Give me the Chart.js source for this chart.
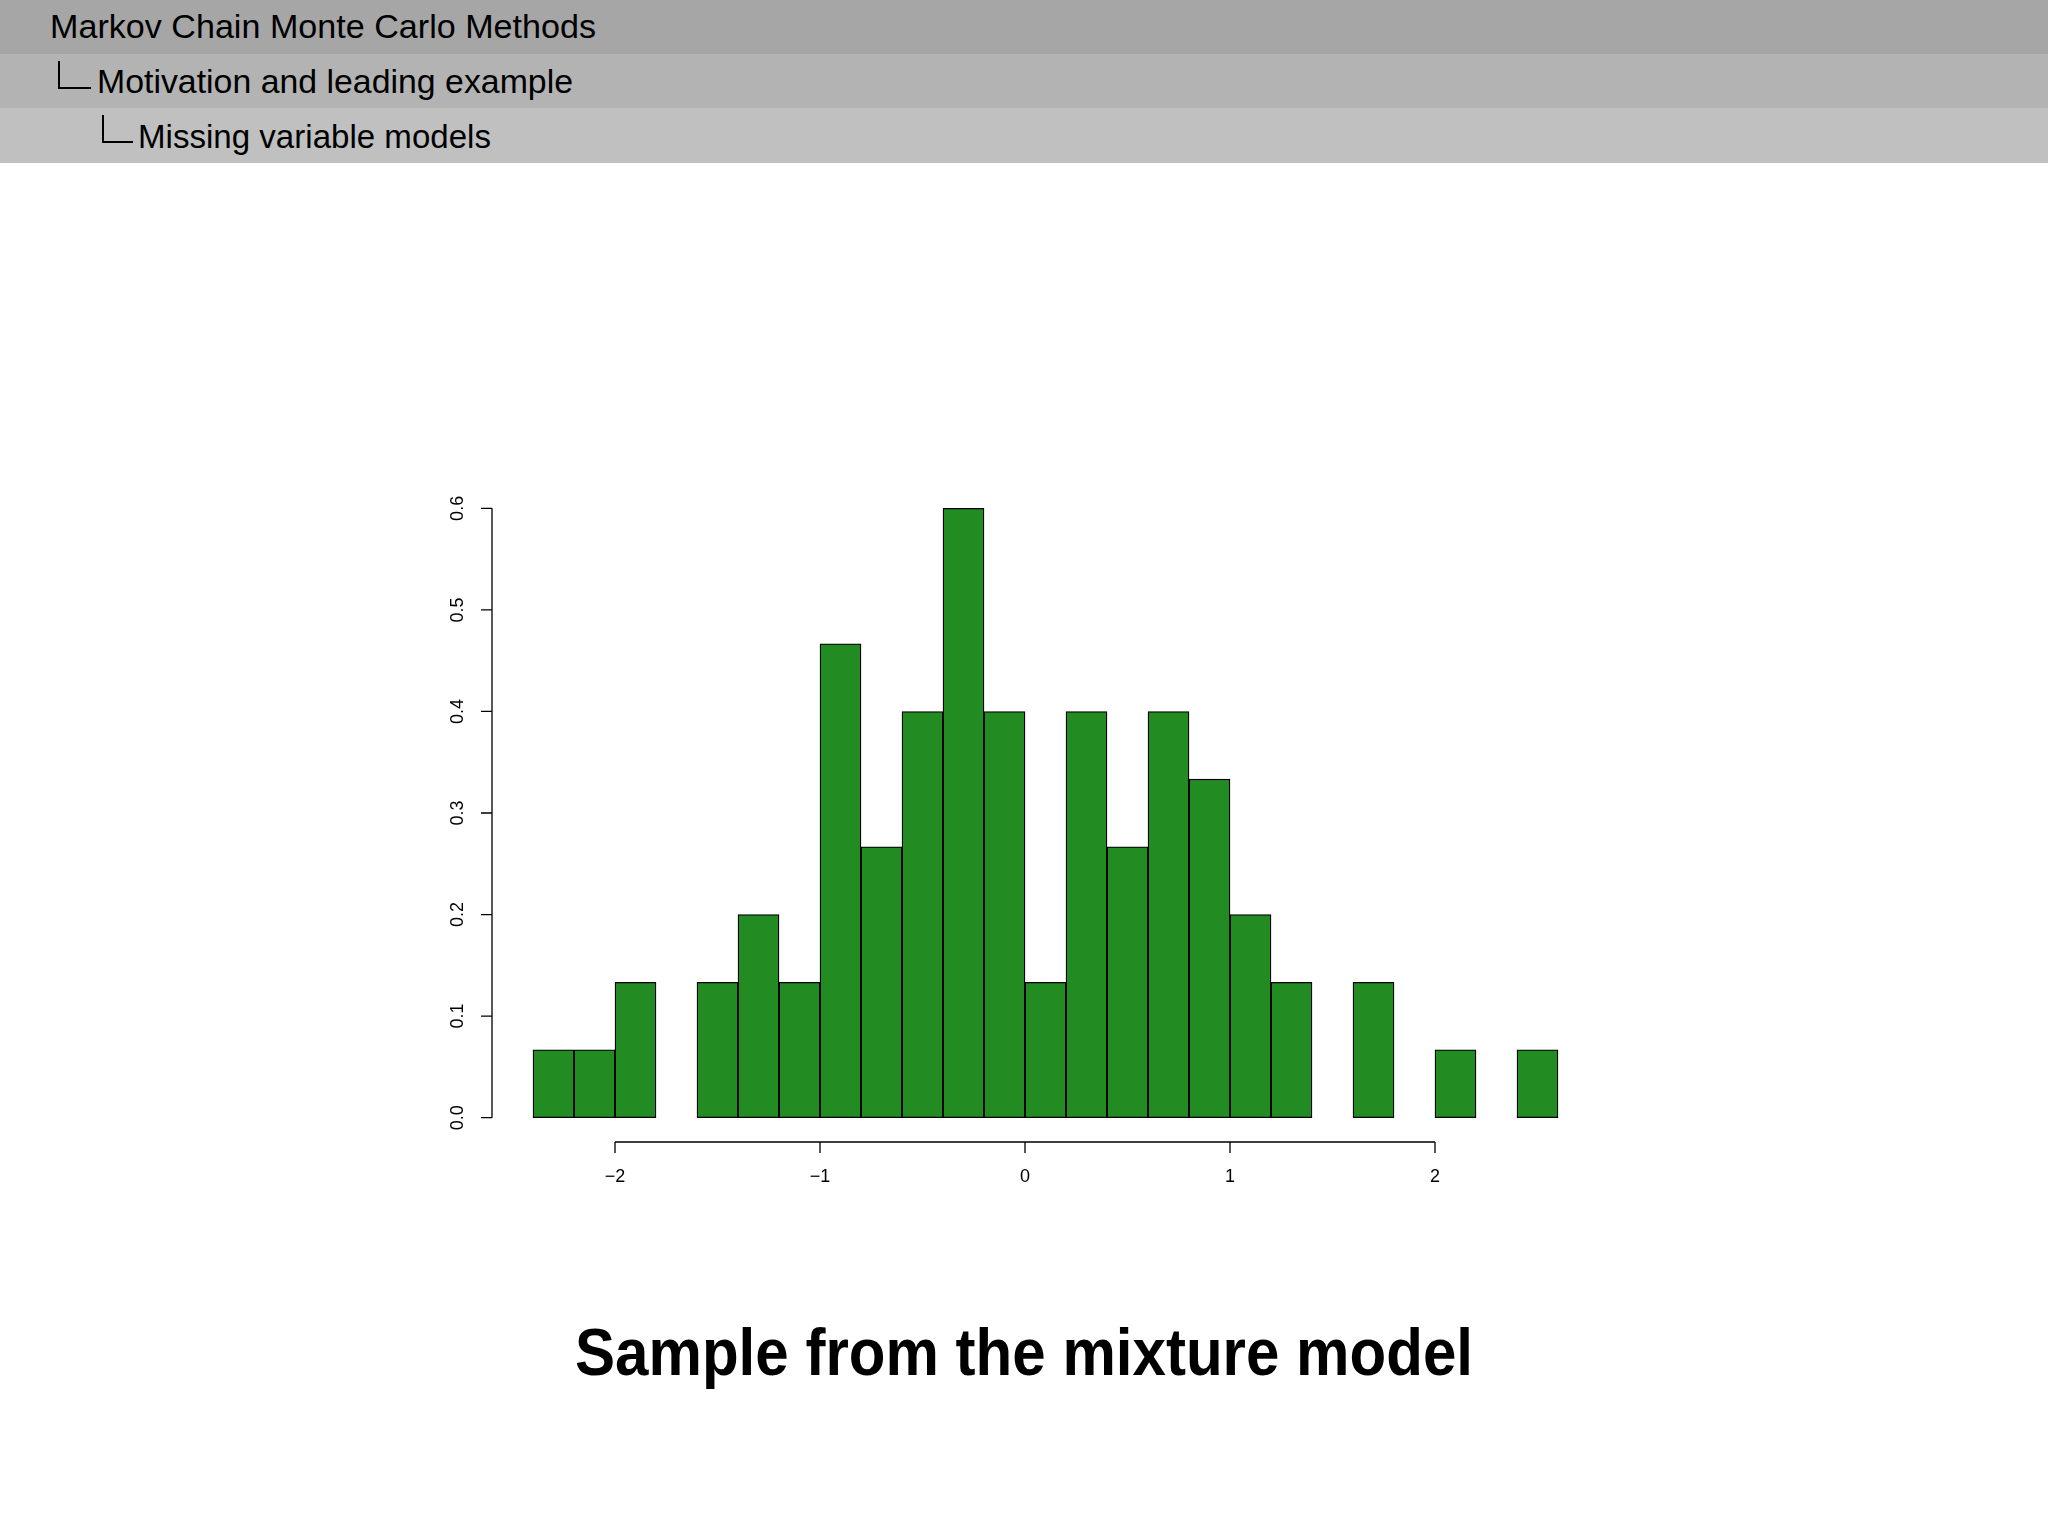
<!DOCTYPE html>
<html>
<head>
<meta charset="utf-8">
<script src="https://cdn.jsdelivr.net/npm/chart.js@4.4.1/dist/chart.umd.min.js"></script>
<style>
  html, body { margin: 0; padding: 0; background: #fff; }
  #page { position: relative; width: 2048px; height: 1536px; overflow: hidden; font-family: "Liberation Sans", Arial, sans-serif; }
  .band { position: absolute; left: 0; width: 2048px; height: 54px; }
  .hd { position: absolute; font-size: 33px; line-height: 1; color: #000; white-space: nowrap; transform-origin: left center; }
  .corner { position: absolute; border-left: 2px solid #000; border-bottom: 2px solid #000; }
  #title { position: absolute; left: 575px; top: 1319px; font-size: 66px; font-weight: bold; line-height: 1; white-space: nowrap; transform-origin: left center; }
  #c { position: absolute; left: 0; top: 0; }
</style>
</head>
<body>
<div id="page">
  <div class="band" style="top:0;background:#a6a6a6"></div>
  <div class="band" style="top:54px;background:#b3b3b3"></div>
  <div class="band" style="top:108px;height:55px;background:#c0c0c0"></div>
  <div class="hd" id="h1" style="left:50px;top:10px" data-w="546">Markov Chain Monte Carlo Methods</div>
  <div class="corner" style="left:58px;top:61px;width:31px;height:26px"></div>
  <div class="hd" id="h2" style="left:97px;top:65px" data-w="476">Motivation and leading example</div>
  <div class="corner" style="left:102px;top:115px;width:29px;height:26px"></div>
  <div class="hd" id="h3" style="left:138px;top:120px" data-w="353">Missing variable models</div>
  <canvas id="c" width="2048" height="1536"></canvas>
  <div id="title" data-w="898">Sample from the mixture model</div>
</div>
<script>
// histogram of a sample of 75 points, bin width 0.2
const binMids = [-2.3, -2.1, -1.9, -1.7, -1.5, -1.3, -1.1, -0.9, -0.7, -0.5, -0.3, -0.1,
                 0.1, 0.3, 0.5, 0.7, 0.9, 1.1, 1.3, 1.5, 1.7, 1.9, 2.1, 2.3, 2.5];
const density = [0.0667, 0.0667, 0.1333, 0, 0.1333, 0.2, 0.1333, 0.4667, 0.2667, 0.4, 0.6, 0.4,
                 0.1333, 0.4, 0.2667, 0.4, 0.3333, 0.2, 0.1333, 0, 0.1333, 0, 0.0667, 0, 0.0667];
const xTicks = [-2, -1, 0, 1, 2];
const yTicks = [0, 0.1, 0.2, 0.3, 0.4, 0.5, 0.6];

// fit header / title text to the widths seen in the slide
document.querySelectorAll('[data-w]').forEach(el => {
  const w = el.getBoundingClientRect().width;
  el.style.transform = 'scaleX(' + (el.dataset.w / w) + ')';
});

// R-style axes: lines only span the tick range, ticks point outward
const rAxes = {
  id: 'rAxes',
  afterDraw(chart) {
    const ctx = chart.ctx;
    const xs = chart.scales.x, ys = chart.scales.y;
    const area = chart.chartArea;
    const tick = 11;
    ctx.save();
    ctx.strokeStyle = '#000';
    ctx.fillStyle = '#000';
    ctx.lineWidth = 1.3;
    ctx.font = '18px "Liberation Sans", Arial, sans-serif';

    // y axis
    const ax = area.left;
    ctx.beginPath();
    ctx.moveTo(ax, ys.getPixelForValue(yTicks[0]));
    ctx.lineTo(ax, ys.getPixelForValue(yTicks[yTicks.length - 1]));
    yTicks.forEach(v => {
      const py = ys.getPixelForValue(v);
      ctx.moveTo(ax, py);
      ctx.lineTo(ax - tick, py);
    });
    ctx.stroke();
    ctx.textAlign = 'center';
    ctx.textBaseline = 'middle';
    yTicks.forEach(v => {
      ctx.save();
      ctx.translate(ax - 34, ys.getPixelForValue(v));
      ctx.rotate(-Math.PI / 2);
      ctx.fillText(v.toFixed(1), 0, 0);
      ctx.restore();
    });

    // x axis
    const ay = area.bottom;
    ctx.beginPath();
    ctx.moveTo(xs.getPixelForValue(xTicks[0]), ay);
    ctx.lineTo(xs.getPixelForValue(xTicks[xTicks.length - 1]), ay);
    xTicks.forEach(v => {
      const px = xs.getPixelForValue(v);
      ctx.moveTo(px, ay);
      ctx.lineTo(px, ay + tick);
    });
    ctx.stroke();
    xTicks.forEach(v => {
      const lab = v < 0 ? '\u2212' + Math.abs(v) : String(v);
      ctx.fillText(lab, xs.getPixelForValue(v), ay + 35);
    });
    ctx.restore();
  }
};

new Chart(document.getElementById('c'), {
  type: 'bar',
  data: {
    datasets: [{
      data: binMids.map((m, i) => ({x: m, y: density[i]})),
      backgroundColor: '#228b22',
      borderColor: '#000',
      borderWidth: 1.3,
      borderSkipped: false,
      barPercentage: 1,
      categoryPercentage: 1
    }]
  },
  options: {
    responsive: false,
    animation: false,
    layout: { padding: { left: 492, right: 449, top: 484, bottom: 394 } },
    plugins: { legend: { display: false }, tooltip: { enabled: false } },
    scales: {
      x: { type: 'linear', min: -2.6, max: 2.8, offset: false, display: false },
      y: { min: -0.024, max: 0.624, display: false }
    }
  },
  plugins: [rAxes]
});
</script>
</body>
</html>
